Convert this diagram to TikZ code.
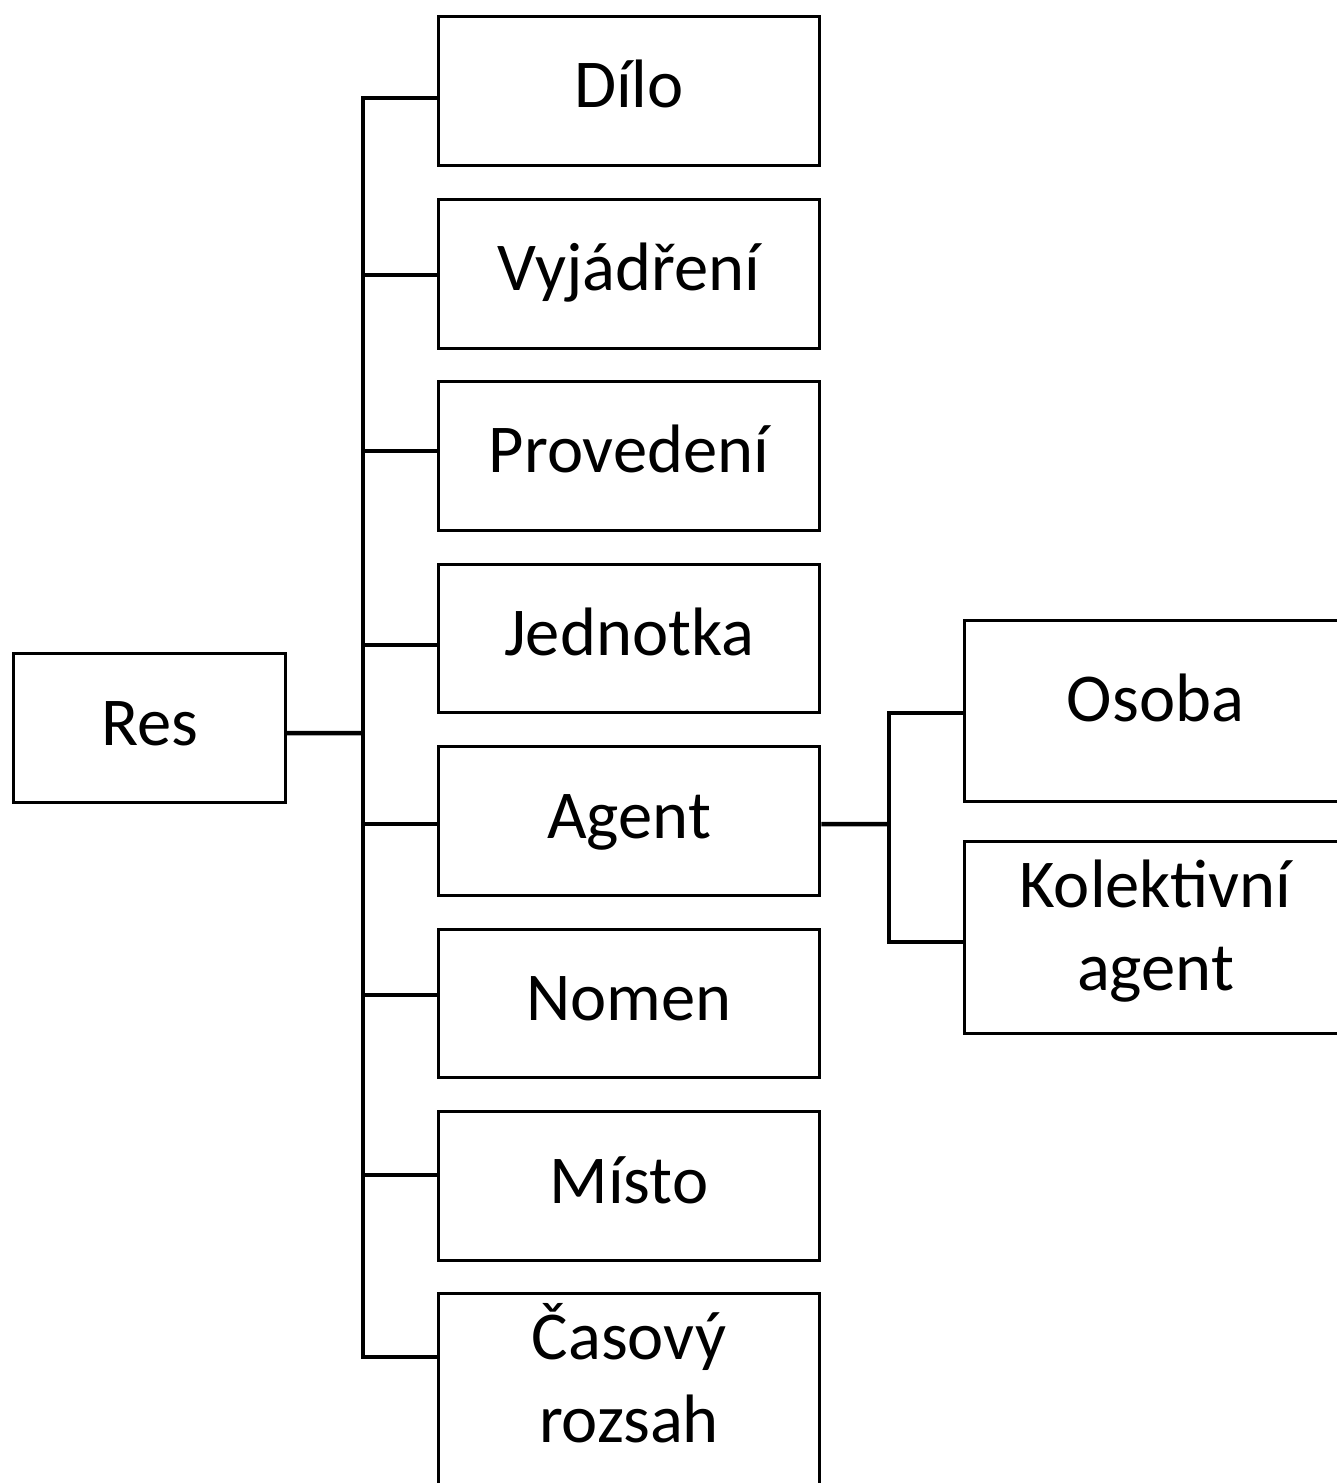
\documentclass[tikz,border=0pt]{standalone}
\usepackage{fontspec}
\setmainfont{Carlito}

\begin{document}
\begin{tikzpicture}[x=0.02cm,y=-0.02cm,
  box/.style={draw, rectangle, line width=0.06cm, inner sep=0pt,
    minimum width=7.64cm, minimum height=2.98cm,
    text height=1cm, text depth=0.32cm, align=center,
    font=\fontsize{39}{46.7}\selectfont},
  twoline/.style={minimum height=3.84cm, text height=2.38cm, text depth=0.28cm},
  conn/.style={line width=0.09cm}]
\useasboundingbox (0,0) rectangle (1337,1483);
\clip (0,0) rectangle (1337,1483);
% root
\node[box, minimum width=5.44cm] (res) at (149.5,728) {Res};
% middle column
\node[box] (dilo) at (629,91) {Dílo};
\node[box] (vyjadreni) at (629,274) {Vyjádření};
\node[box] (provedeni) at (629,456) {Provedení};
\node[box] (jednotka) at (629,638.5) {Jednotka};
\node[box] (agent) at (629,821) {Agent};
\node[box] (nomen) at (629,1003.5) {Nomen};
\node[box] (misto) at (629,1186) {Místo};
\node[box, twoline] (casovy) at (629,1389.5) {Časový\\rozsah};
% right column
\node[box, minimum height=3.62cm, text depth=0.6cm] (osoba) at (1155.5,711) {Osoba};
\node[box, twoline] (kolektivni) at (1155.5,937.5) {Kolektivní\\agent};
% connectors from Res
\coordinate (fork) at (363,733);
\path[draw,conn] ([yshift=-0.1cm]res.east) -- (fork);
\path[draw,conn] (fork) |- ([yshift=-0.14cm]dilo.west);
\path[draw,conn] (fork) |- ([yshift=-0.02cm]vyjadreni.west);
\path[draw,conn] (fork) |- ([yshift=0.1cm]provedeni.west);
\path[draw,conn] (fork) |- ([yshift=-0.13cm]jednotka.west);
\path[draw,conn] (fork) |- ([yshift=-0.06cm]agent.west);
\path[draw,conn] (fork) |- ([yshift=0.17cm]nomen.west);
\path[draw,conn] (fork) |- ([yshift=0.22cm]misto.west);
\path[draw,conn] (fork) |- ([yshift=0.65cm]casovy.west);
% connectors from Agent
\coordinate (agentfork) at (889,824);
\path[draw,conn] ([yshift=-0.06cm]agent.east) -- (agentfork);
\path[draw,conn] (agentfork) |- ([yshift=-0.04cm]osoba.west);
\path[draw,conn] (agentfork) |- ([yshift=-0.09cm]kolektivni.west);
\end{tikzpicture}
\end{document}
